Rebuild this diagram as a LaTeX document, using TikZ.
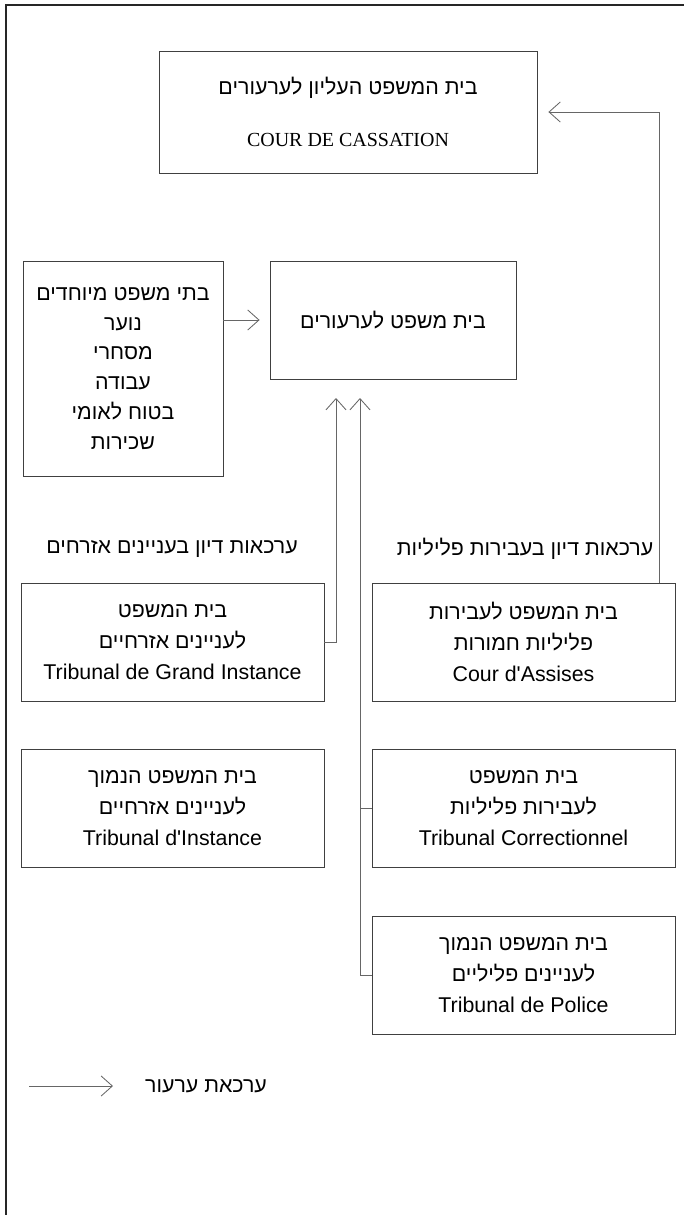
\documentclass[tikz,border=0pt]{standalone}
\usepackage{fontspec}
\setmainfont{Liberation Serif}
\newfontfamily\hebfont[Script=Hebrew]{Liberation Sans}
\newfontfamily\latfont{Liberation Sans}
\TeXXeTstate=1
\usetikzlibrary{arrows.meta}
\newcommand{\heb}[1]{{\hebfont\beginR #1\endR}}
\newcommand{\lat}[1]{{\latfont #1}}
\tikzset{
  court/.style={draw=black!75, line width=0.6pt, align=center, inner sep=0pt,
    font=\fontsize{15.2}{22}\selectfont},
  link/.style={draw=black!60, line width=0.6pt},
  apparrow/.style={link, -{Straight Barb[length=0.28cm,width=0.5cm]}},
}
\begin{document}
\begin{tikzpicture}
    \useasboundingbox (0,0) rectangle (17.1,-30.375);
    % Frame
    \draw[black!85,line width=1.7pt] (17.1,-0.125) -- (0.15,-0.125) -- (0.15,-30.375);

    % Supreme court
    \node[court, minimum width=9.45cm, minimum height=3.05cm] (cass) at (8.7,-2.8)
        {\heb{בית המשפט העליון לערעורים}\\[15pt] {\fontsize{14.2}{22}\selectfont COUR DE CASSATION}};

    % Special courts and court of appeal
    \node[court, minimum width=5cm, minimum height=5.375cm, font=\fontsize{15.2}{21.3}\selectfont] (special) at (3.075,-9.2125)
        {\heb{בתי משפט מיוחדים}\\ \heb{נוער}\\ \heb{מסחרי}\\ \heb{עבודה}\\ \heb{בטוח לאומי}\\ \heb{שכירות}};
    \node[court, minimum width=6.15cm, minimum height=2.95cm] (appeal) at (9.825,-8.0)
        {\heb{בית משפט לערעורים}};

    % Headers
    \node[court, draw=none] (civil) at (4.3,-13.725) {\heb{ערכאות דיון בעניינים אזרחים}};
    \node[court, draw=none] (criminal) at (13.125,-13.725) {\heb{ערכאות דיון בעבירות פליליות}};

    % Civil courts
    \node[court, minimum width=7.575cm, minimum height=2.95cm] (tgi) at (4.3125,-16.05)
        {\heb{בית המשפט}\\ \heb{לעניינים אזרחיים}\\ \lat{Tribunal de Grand Instance}};
    \node[court, minimum width=7.575cm, minimum height=2.95cm] (ti) at (4.3125,-20.2125)
        {\heb{בית המשפט הנמוך}\\ \heb{לעניינים אזרחיים}\\ \lat{Tribunal d'Instance}};

    % Criminal courts
    \node[court, minimum width=7.575cm, minimum height=2.95cm] (assises) at (13.0875,-16.05)
        {\heb{בית המשפט לעבירות}\\ \heb{פליליות חמורות}\\ \lat{Cour d'Assises}};
    \node[court, minimum width=7.575cm, minimum height=2.95cm] (tc) at (13.0875,-20.2125)
        {\heb{בית המשפט}\\ \heb{לעבירות פליליות}\\ \lat{Tribunal Correctionnel}};
    \node[court, minimum width=7.575cm, minimum height=2.95cm] (police) at (13.0875,-24.375)
        {\heb{בית המשפט הנמוך}\\ \heb{לעניינים פליליים}\\ \lat{Tribunal de Police}};

    % Appeal routes
    \coordinate (civtip) at (8.4,-9.95);
    \coordinate (crimtip) at (9.0,-9.95);
    \coordinate (cassbend) at (16.475,-2.8);
    \draw[apparrow, shorten >=0.25cm] (special.east |- appeal.west) -- (appeal.west);
    \draw[apparrow] (tgi.east) -| (civtip);
    \draw[apparrow] (police.west) -| (crimtip);
    \draw[link] (tc.west) -- (tc.west -| crimtip);
    \draw[apparrow, shorten >=0.275cm] (cassbend |- assises.north) -- (cassbend) -- (cass.east);

    % Legend
    \coordinate (legstart) at (0.725,-27.15);
    \coordinate (legend) at (2.825,-27.15);
    \node[court, draw=none] (legtext) at (5.15,-27.15) {\heb{ערכאת ערעור}};
    \draw[apparrow] (legstart) -- (legend);
\end{tikzpicture}
\end{document}
